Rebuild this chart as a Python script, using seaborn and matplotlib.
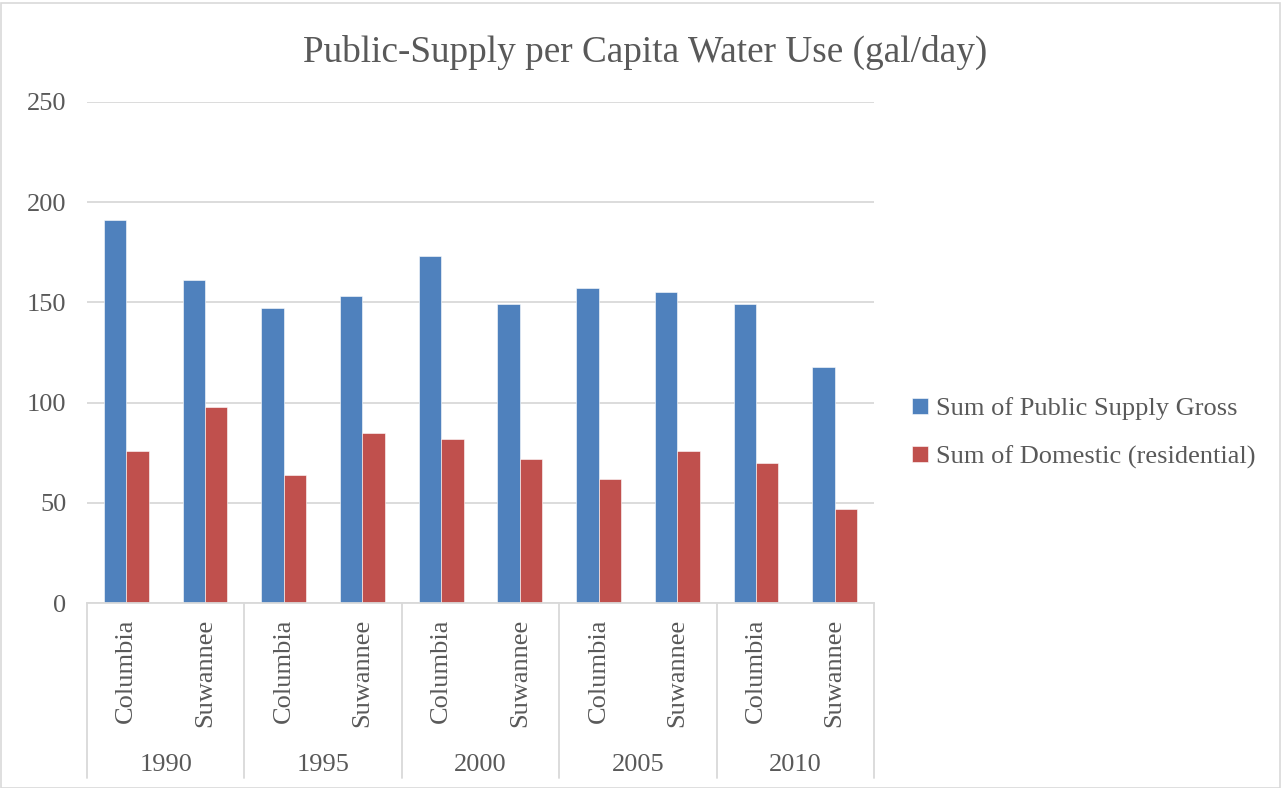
import numpy as np
import pandas as pd
import seaborn as sns
import matplotlib.pyplot as plt
from matplotlib.patches import Rectangle

# =============================================================================
# Data
# =============================================================================

years = ["1990", "1995", "2000", "2005", "2010"]
counties = ["Columbia", "Suwannee"]

public_supply_gross = [191, 161, 147, 153, 173, 149, 157, 155, 149, 118]
domestic_residential = [76, 98, 64, 85, 82, 72, 62, 76, 70, 47]

series_names = ["Sum of Public Supply Gross", "Sum of Domestic (residential)"]
colors = ["#4F81BD", "#C0504D"]

# =============================================================================
# Long table for seaborn
# =============================================================================

slots = [f"{y} {c}" for y in years for c in counties]

df = pd.DataFrame({
    "slot": slots * 2,
    "series": [series_names[0]] * len(slots) + [series_names[1]] * len(slots),
    "value": public_supply_gross + domestic_residential,
})

# =============================================================================
# Plot
# =============================================================================

sns.set_style("white")
plt.rcParams["font.family"] = ["Liberation Serif", "DejaVu Serif"]
text_color = "#595959"
line_color = "#D9D9D9"

W, H = 1282, 788
fig = plt.figure(figsize=(W / 100, H / 100), dpi=100)
ax = fig.add_axes([87 / W, (H - 603) / H, (874 - 87) / W, (603 - 102) / H])

sns.barplot(
    data=df,
    x="slot",
    y="value",
    hue="series",
    order=slots,
    hue_order=series_names,
    palette=colors,
    width=0.57,
    saturation=1,
    edgecolor="white",
    linewidth=0.4,
    ax=ax,
)

ax.set_ylim(0, 250)
ax.set_yticks(np.arange(0, 251, 50))
ax.set_xlim(-0.5, len(slots) - 0.5)
ax.yaxis.grid(True, color=line_color, linewidth=1.3)
ax.set_axisbelow(True)

for side in ["left", "right", "top"]:
    ax.spines[side].set_visible(False)
ax.spines["bottom"].set_color(line_color)
ax.spines["bottom"].set_linewidth(1.3)

ax.set_xlabel("")
ax.set_ylabel("")
ax.set_xticks(range(len(slots)))
ax.set_xticklabels([c for y in years for c in counties], rotation=90,
                   fontsize=19, color=text_color)
ax.tick_params(axis="x", length=0, pad=11)
ax.tick_params(axis="y", length=0, pad=15, labelsize=19, labelcolor=text_color)

# group separators and year labels below the axis
trans = ax.get_xaxis_transform()
bottom = -(778 - 603) / (603 - 102)
for i in range(len(years) + 1):
    xpos = i * len(counties) - 0.5
    ax.plot([xpos, xpos], [0, bottom], transform=trans, color=line_color,
            linewidth=1.3, clip_on=False)
for i, y in enumerate(years):
    xpos = i * len(counties) + 0.5
    ax.text(xpos, -(765 - 603) / (603 - 102), y, transform=trans,
            ha="center", va="center", fontsize=19, color=text_color)

# title
fig.text((303 + 988) / 2 / W, 1 - 52 / H, "Public-Supply per Capita Water Use (gal/day)",
         ha="center", va="center", fontsize=26.8, color=text_color)

# legend
ax.legend(
    loc="center left",
    bbox_to_anchor=(888 / W, 1 - 433 / H),
    bbox_transform=fig.transFigure,
    frameon=False,
    fontsize=19,
    labelcolor=text_color,
    handlelength=0.6,
    handleheight=0.6,
    handletextpad=0.3,
    labelspacing=0.95,
)

# chart border
fig.patches.append(Rectangle((0.5 / W, 0.5 / H), 1 - 3 / W, 1 - 3 / H,
                             transform=fig.transFigure, fill=False,
                             edgecolor=line_color, linewidth=1.2))

plt.savefig("out.png", dpi=100)
